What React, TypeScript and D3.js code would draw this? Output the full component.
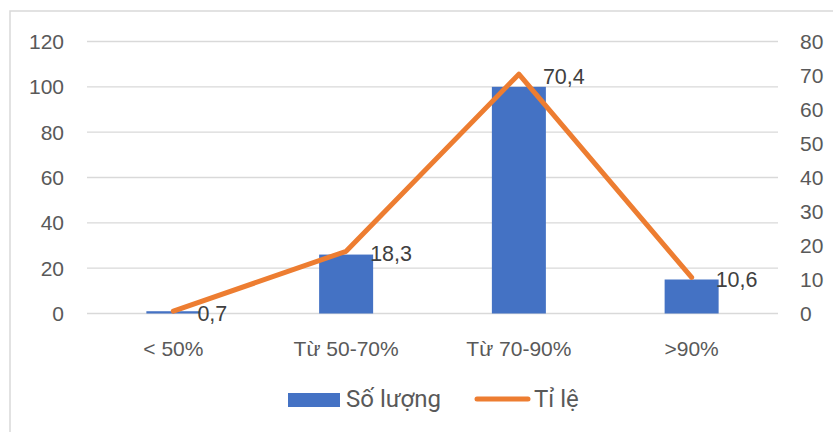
import React, { useRef, useEffect } from "react";
import * as d3 from "d3";

// Chart data
const categories = ["< 50%", "Từ 50-70%", "Từ 70-90%", ">90%"];
const counts = [1, 26, 100, 15];
const rates = [0.7, 18.3, 70.4, 10.6];
const leftTicks = [0, 20, 40, 60, 80, 100, 120];
const rightTicks = [0, 10, 20, 30, 40, 50, 60, 70, 80];
const seriesNames = ["Số lượng", "Tỉ lệ"];

const BLUE = "#4472C4";
const ORANGE = "#ED7D31";
const GREY_TEXT = "#595959";
const FONT = "'Liberation Sans', Arial, sans-serif";

const App = () => {
  const svgRef = useRef<SVGSVGElement>(null);
  const width = 833;
  const height = 432;

  useEffect(() => {
    document.body.style.margin = "0";
    const svg = d3.select(svgRef.current);
    svg.selectAll("*").remove();

    const left = 87;
    const right = 778;
    const top = 41.5;
    const bottom = 313.5;

    // chart border
    svg
      .append("rect")
      .attr("x", 10)
      .attr("y", 11)
      .attr("width", width + 20)
      .attr("height", height + 20)
      .attr("fill", "#fff")
      .attr("stroke", "#d9d9d9")
      .attr("stroke-width", 1.5);

    const x = d3.scaleBand().domain(categories).range([left, right]);
    const yLeft = d3.scaleLinear().domain([0, 120]).range([bottom, top]);
    const yRight = d3.scaleLinear().domain([0, 80]).range([bottom, top]);

    // gridlines
    svg
      .append("g")
      .selectAll("line")
      .data(leftTicks)
      .enter()
      .append("line")
      .attr("x1", left)
      .attr("x2", right)
      .attr("y1", (d) => yLeft(d))
      .attr("y2", (d) => yLeft(d))
      .attr("stroke", "#d9d9d9")
      .attr("stroke-width", 1.3);

    // left axis labels
    svg
      .append("g")
      .selectAll("text")
      .data(leftTicks)
      .enter()
      .append("text")
      .attr("x", 64)
      .attr("y", (d) => yLeft(d))
      .attr("dy", "0.35em")
      .attr("text-anchor", "end")
      .attr("font-family", FONT)
      .attr("font-size", 21)
      .attr("fill", GREY_TEXT)
      .text((d) => d);

    // right axis labels
    svg
      .append("g")
      .selectAll("text")
      .data(rightTicks)
      .enter()
      .append("text")
      .attr("x", 800)
      .attr("y", (d) => yRight(d))
      .attr("dy", "0.35em")
      .attr("text-anchor", "start")
      .attr("font-family", FONT)
      .attr("font-size", 21)
      .attr("fill", GREY_TEXT)
      .text((d) => d);

    // category labels
    svg
      .append("g")
      .selectAll("text")
      .data(categories)
      .enter()
      .append("text")
      .attr("x", (d) => (x(d) as number) + x.bandwidth() / 2)
      .attr("y", 349)
      .attr("dy", "0.35em")
      .attr("text-anchor", "middle")
      .attr("font-family", FONT)
      .attr("font-size", 21)
      .attr("fill", GREY_TEXT)
      .text((d) => d);

    // bars
    const barW = 54;
    svg
      .append("g")
      .selectAll("rect")
      .data(counts)
      .enter()
      .append("rect")
      .attr("x", (d, i) => (x(categories[i]) as number) + x.bandwidth() / 2 - barW / 2)
      .attr("y", (d) => yLeft(d))
      .attr("width", barW)
      .attr("height", (d) => bottom - yLeft(d))
      .attr("fill", BLUE);

    // line
    const line = d3
      .line<number>()
      .x((d, i) => (x(categories[i]) as number) + x.bandwidth() / 2)
      .y((d) => yRight(d));

    svg
      .append("path")
      .datum(rates)
      .attr("d", line)
      .attr("fill", "none")
      .attr("stroke", ORANGE)
      .attr("stroke-width", 5)
      .attr("stroke-linejoin", "round")
      .attr("stroke-linecap", "round");

    // line labels
    svg
      .append("g")
      .selectAll("text")
      .data(rates)
      .enter()
      .append("text")
      .attr("x", (d, i) => (x(categories[i]) as number) + x.bandwidth() / 2 + 24)
      .attr("y", (d) => yRight(d) + 2)
      .attr("dy", "0.35em")
      .attr("font-family", FONT)
      .attr("font-size", 21.5)
      .attr("fill", "#404040")
      .text((d) => d.toFixed(1).replace(".", ","));

    // legend
    const legend = svg.append("g").attr("font-family", "Roboto, 'Open Sans', sans-serif");
    legend
      .append("rect")
      .attr("x", 288)
      .attr("y", 393)
      .attr("width", 52)
      .attr("height", 14)
      .attr("fill", BLUE);
    legend
      .append("text")
      .attr("x", 346)
      .attr("y", 399)
      .attr("dy", "0.35em")
      .attr("font-size", 24)
      .attr("fill", GREY_TEXT)
      .text(seriesNames[0]);
    legend
      .append("line")
      .attr("x1", 477)
      .attr("x2", 528)
      .attr("y1", 399)
      .attr("y2", 399)
      .attr("stroke", ORANGE)
      .attr("stroke-width", 5)
      .attr("stroke-linecap", "round");
    legend
      .append("text")
      .attr("x", 534)
      .attr("y", 399)
      .attr("dy", "0.35em")
      .attr("font-size", 24)
      .attr("fill", GREY_TEXT)
      .text(seriesNames[1]);
  }, []);

  return <svg ref={svgRef} width={width} height={height} style={{ display: "block" }}></svg>;
};

export default App;
